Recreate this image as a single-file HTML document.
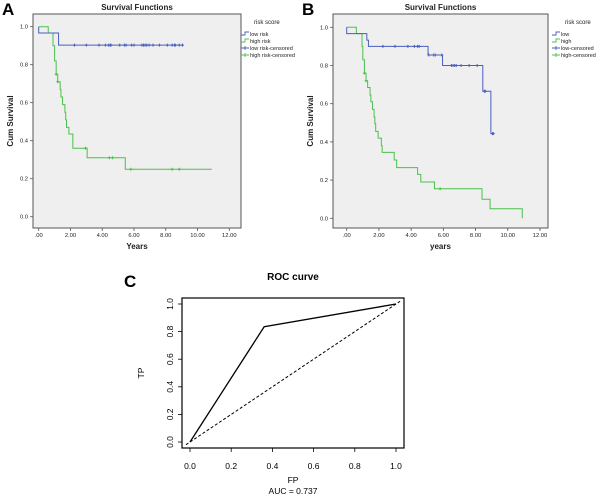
<!DOCTYPE html>
<html><head><meta charset="utf-8">
<style>
body{margin:0;background:#fff;width:600px;height:495px;overflow:hidden;font-family:"Liberation Sans",Arial,sans-serif}
svg{display:block}
</style></head>
<body>
<svg id="fig" width="600" height="495" viewBox="0 0 600 495" xmlns="http://www.w3.org/2000/svg">
<text x="2" y="15" font-size="17" font-weight="bold">A</text>
<text x="302" y="15" font-size="17" font-weight="bold">B</text>
<text x="124" y="287" font-size="17" font-weight="bold">C</text>
</svg>
<script>
// ---- Panel A data ----
const aLowTimes=[0,1.25];
const aLowSurv=[0.967,0.903];
const aLowEnd=9.1;
const aLowCens=[2.25,3.0,3.8,4.2,4.4,4.5,4.55,5.1,5.4,5.5,5.85,6.0,6.5,6.6,6.7,6.8,6.95,7.2,7.6,8.1,8.4,8.55,8.6,8.85,9.05];
const aHighTimes=[0,0.6,0.9,1.0,1.1,1.2,1.35,1.4,1.5,1.65,1.7,1.75,1.9,2.15,3.05,5.45];
const aHighSurv=[1.0,0.967,0.9,0.82,0.75,0.71,0.67,0.63,0.59,0.55,0.51,0.47,0.435,0.36,0.31,0.25];
const aHighEnd=10.9;
const aHighCens=[1.1,1.2,2.95,4.45,4.65,5.8,8.4,8.85];
// ---- Panel B data ----
const bLowTimes=[0,1.25,1.35,5.05,5.95,8.45,8.95];
const bLowSurv=[0.967,0.933,0.9,0.855,0.8,0.665,0.443];
const bLowEnd=9.1;
const bLowCens=[2.25,3.0,3.8,4.2,4.4,4.5,5.1,5.4,5.5,5.9,6.5,6.6,6.7,6.8,7.1,7.6,8.1,8.55,8.6,9.05,9.1];
const bHighTimes=[0,0.6,0.95,1.0,1.1,1.2,1.3,1.45,1.5,1.6,1.7,1.75,1.8,1.95,2.15,2.2,2.95,3.1,4.4,4.6,5.45,8.4,8.9,10.9];
const bHighSurv=[1.0,0.967,0.9,0.83,0.76,0.72,0.685,0.645,0.61,0.57,0.53,0.495,0.455,0.42,0.38,0.345,0.305,0.265,0.23,0.19,0.155,0.10,0.05,0.0];
const bHighEnd=10.9;
const bHighCens=[1.1,1.2,5.8];
// ---- Panel C data ----
const rocFP=[0,0.36,1];
const rocTP=[0,0.835,1];
const kmXTicks=[0,2,4,6,8,10,12];
const kmXLabels=[".00","2.00","4.00","6.00","8.00","10.00","12.00"];
const kmYTicks=[0,0.2,0.4,0.6,0.8,1.0];
const rocTicks=[0,0.2,0.4,0.6,0.8,1.0];

const NS="http://www.w3.org/2000/svg";
const svg=document.getElementById('fig');
function mk(tag,attrs,parent){const e=document.createElementNS(NS,tag);for(const k in attrs)e.setAttribute(k,attrs[k]);(parent||svg).appendChild(e);return e;}
function txt(x,y,s,size,extra,parent){const t=mk('text',Object.assign({x:x,y:y,'font-size':size,fill:'#222'},extra||{}),parent);t.textContent=s;return t;}

function kmPanel(P,low,high,legendNames,xTitle,pfx){
  const g=mk('g',{});
  
  
  const sx=v=>P.x0+(v/12)*(P.x12-P.x0);
  const sy=v=>P.y0-v*(P.y0-P.y1);
  const bg=mk('rect',{x:P.L,y:P.T,width:P.R-P.L,height:P.B-P.T,fill:'#efefef',stroke:'#555','stroke-width':1},g);
  
  
  txt((P.L+P.R)/2,P.T-4,'Survival Functions',8,{'text-anchor':'middle','font-weight':'bold'},g);
  kmYTicks.forEach(v=>{
    mk('line',{x1:P.L-3,x2:P.L,y1:sy(v),y2:sy(v),stroke:'#555','stroke-width':0.8},g);
    const t=txt(P.L-5,sy(v)+2,v.toFixed(1),5.8,{'text-anchor':'end'},g);
    
    
  });
  kmXTicks.forEach((v,i)=>{
    mk('line',{x1:sx(v),x2:sx(v),y1:P.B,y2:P.B+3,stroke:'#555','stroke-width':0.8},g);
    const t=txt(sx(v),P.B+9,kmXLabels[i],5.8,{'text-anchor':'middle'},g);
    
    
  });
  const xt=txt((P.L+P.R)/2,P.B+21,xTitle,8,{'text-anchor':'middle','font-weight':'bold'},g);
  
  
  const yt=txt(0,0,'Cum Survival',8,{'text-anchor':'middle','font-weight':'bold',transform:`translate(${P.L-20},${(P.T+P.B)/2}) rotate(-90)`},g);
  
  
  [[high,'#4cc04c','high'],[low,'#4a5fc0','low']].forEach(([s,col,nm])=>{
    let d=`M${sx(0)},${sy(1)}`;
    for(let i=0;i<s.t.length;i++){
      d+=` L${sx(s.t[i])},${sy(i===0?1:s.s[i-1])} L${sx(s.t[i])},${sy(s.s[i])}`;
    }
    d+=` L${sx(s.end)},${sy(s.s[s.s.length-1])}`;
    const p=mk('path',{d:d,fill:'none',stroke:col,'stroke-width':1},g);
    
    
    s.c.forEach(ct=>{
      let v=1;for(let i=0;i<s.t.length;i++){if(s.t[i]<=ct)v=s.s[i];}
      const m=mk('path',{d:`M${sx(ct)-1.5},${sy(v)} h3 M${sx(ct)},${sy(v)-1.5} v3`,stroke:col,'stroke-width':1},g);
      
      
    });
  });
  const lg=mk('g',{},g);
  
  
  txt(P.lx+13,P.T+10,'risk score',6,{},lg);
  const cols=['#4a5fc0','#4cc04c','#4a5fc0','#4cc04c'];
  legendNames.forEach((n,i)=>{
    const y=P.T+20+i*7;
    if(i<2) mk('path',{d:`M${P.lx},${y+1} h4 v-3 h4`,fill:'none',stroke:cols[i],'stroke-width':0.9},lg);
    else mk('path',{d:`M${P.lx},${y} h8 M${P.lx+4},${y-2} v4`,stroke:cols[i],'stroke-width':0.9},lg);
    const t=txt(P.lx+9,y+2,n,5.5,{},lg);
    
    
  });
}
kmPanel({L:33,R:241,T:14,B:228,x0:38.7,x12:229.3,y0:216.7,y1:26.7,lx:241},
  {t:aLowTimes,s:aLowSurv,end:aLowEnd,c:aLowCens},
  {t:aHighTimes,s:aHighSurv,end:aHighEnd,c:aHighCens},
  ['low risk','high risk','low risk-censored','high risk-censored'],'Years','a');
kmPanel({L:333,R:548,T:14,B:228,x0:346.7,x12:540,y0:218.3,y1:27.3,lx:552},
  {t:bLowTimes,s:bLowSurv,end:bLowEnd,c:bLowCens},
  {t:bHighTimes,s:bHighSurv,end:bHighEnd,c:bHighCens},
  ['low','high','low-censored','high-censored'],'years','b');

// ROC
(function(){
  const g=mk('g',{});
  
  
  const L=182,R=404,T=298,B=448;
  const sx=v=>190+v*(396-190), sy=v=>442-v*(442-304);
  const box=mk('rect',{x:L,y:T,width:R-L,height:B-T,fill:'none',stroke:'#000','stroke-width':1.2},g);
  
  
  txt(293,280,'ROC curve',10,{'text-anchor':'middle','font-weight':'bold',fill:'#000'},g);
  rocTicks.forEach(v=>{
    mk('line',{x1:sx(v),x2:sx(v),y1:B,y2:B+4,stroke:'#000','stroke-width':0.8},g);
    const t=txt(sx(v),B+21,v.toFixed(1),8.5,{'text-anchor':'middle',fill:'#000'},g);
    
    
    mk('line',{x1:L-4,x2:L,y1:sy(v),y2:sy(v),stroke:'#000','stroke-width':0.8},g);
    const u=txt(0,0,v.toFixed(1),8.5,{'text-anchor':'middle',fill:'#000',transform:`translate(${L-9},${sy(v)}) rotate(-90)`},g);
    
    
  });
  const fp=txt(293,483,'FP',8.5,{'text-anchor':'middle',fill:'#000'},g);
  
  
  const auc=txt(293,494,'AUC =  0.737',8.5,{'text-anchor':'middle',fill:'#000'},g);
  
  
  const tp=txt(0,0,'TP',8.5,{'text-anchor':'middle',fill:'#000',transform:`translate(144,${(T+B)/2}) rotate(-90)`},g);
  
  
  const diag=mk('line',{x1:sx(-0.02),y1:sy(-0.02),x2:sx(1.02),y2:sy(1.02),stroke:'#000','stroke-width':1,'stroke-dasharray':'3,2'},g);
  
  
  const pts=rocFP.map((f,i)=>sx(f)+','+sy(rocTP[i])).join(' ');
  const c=mk('polyline',{points:pts,fill:'none',stroke:'#000','stroke-width':1.3},g);
  
  
})();
</script>
</body></html>
